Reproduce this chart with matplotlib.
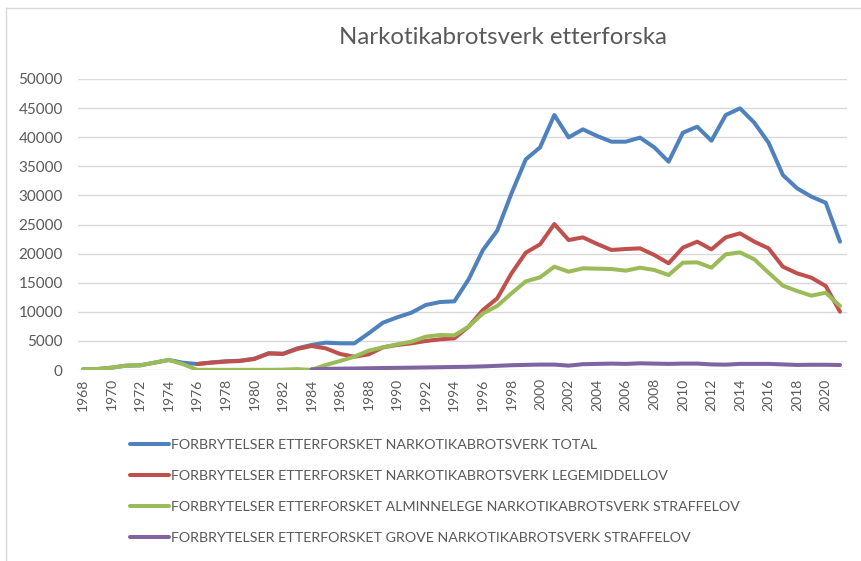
import matplotlib
matplotlib.use("Agg")
import matplotlib.pyplot as plt
from matplotlib.lines import Line2D

plt.rcParams["font.family"] = ["Lato", "DejaVu Sans"]

years = list(range(1968, 2022))

total = [115, 170, 400, 745, 800, 1260, 1720, 1250, 1030, 1300, 1500, 1600, 1950, 2860, 2800,
         3720, 4300, 4700, 4580, 4580, 6300, 8130, 9050, 9850, 11170, 11680, 11800, 15580,
         20620, 23940, 30350, 36190, 38250, 43810, 39970, 41350, 40200, 39230, 39230, 39920,
         38250, 35790, 40770, 41800, 39400, 43810, 44960, 42490, 39050, 33500, 31210, 29780,
         28740, 22050]

legemiddel = [None] * 8 + [1030, 1260, 1450, 1550, 1890, 2860, 2750, 3610, 4120, 3720, 2750,
              2290, 2690, 3890, 4300, 4580, 4980, 5270, 5440, 7450, 10310, 12310, 16610,
              20160, 21590, 25080, 22330, 22790, 21650, 20620, 20790, 20900, 19760, 18330,
              21020, 22050, 20730, 22790, 23480, 22050, 20900, 17750, 16610, 15860, 14430, 10020]

alminnelege = [115, 170, 400, 745, 800, 1260, 1720, 1000, 30, 30, 30, 30, 30, 30, 60, 150, 20,
               860, 1550, 2290, 3320, 3890, 4410, 4870, 5730, 6010, 5960, 7450, 9730, 11000,
               13170, 15230, 15920, 17750, 16890, 17470, 17410, 17350, 17070, 17580, 17180,
               16320, 18440, 18500, 17580, 19870, 20210, 19010, 16720, 14490, 13570, 12770,
               13280, 11000]

grove = [None] * 16 + [115, 200, 230, 260, 300, 340, 370, 400, 440, 480, 520, 560, 620, 720,
         820, 880, 930, 930, 750, 1000, 1050, 1100, 1050, 1150, 1100, 1050, 1100, 1100,
         960, 920, 1050, 1050, 1050, 960, 870, 900, 900, 860]

series_labels = [
    "FORBRYTELSER ETTERFORSKET NARKOTIKABROTSVERK TOTAL",
    "FORBRYTELSER ETTERFORSKET NARKOTIKABROTSVERK LEGEMIDDELLOV",
    "FORBRYTELSER ETTERFORSKET ALMINNELEGE NARKOTIKABROTSVERK STRAFFELOV",
    "FORBRYTELSER ETTERFORSKET GROVE NARKOTIKABROTSVERK STRAFFELOV",
]
colors = ["#4F81BD", "#C0504D", "#9BBB59", "#8064A2"]
title = "Narkotikabrotsverk etterforska"
yticks = list(range(0, 50001, 5000))
xtick_years = list(range(1968, 2021, 2))

W, H = 861, 561
fig = plt.figure(figsize=(W / 100, H / 100), dpi=100)
ax = fig.add_axes([78 / W, (H - 370) / H, 769 / W, 291 / H])

TXT = "#595959"
handles = []
for vals, c, lab in zip([total, legemiddel, alminnelege, grove], colors, series_labels):
    xs = [y for y, v in zip(years, vals) if v is not None]
    vs = [v for v in vals if v is not None]
    h, = ax.plot(xs, vs, color=c, lw=2.9, solid_joinstyle="round", solid_capstyle="round", label=lab)
    handles.append(h)

ax.set_ylim(0, 50000)
ax.set_xlim(1968 - 5 / 14.28, 2021 + 7 / 14.28)
ax.set_yticks(yticks)
ax.set_yticklabels([str(v) for v in yticks], fontsize=11, color=TXT)
ax.set_xticks(xtick_years)
ax.set_xticklabels([str(v) for v in xtick_years], rotation=90, fontsize=10, color=TXT)
ax.tick_params(axis="y", length=0, pad=11)
ax.tick_params(axis="x", length=0, pad=6)
ax.grid(axis="y", color="#D9D9D9", lw=1)
ax.set_axisbelow(True)
for s in ax.spines.values():
    s.set_visible(False)

fig.text(503 / W, 1 - 38 / H, title, ha="center", va="center", fontsize=17.3, color=TXT)

leg = fig.legend(handles=handles, loc="upper left", bbox_to_anchor=(130 / W, 1 - 439 / H),
                 frameon=False, fontsize=10.3, handlelength=2.7, handletextpad=0.2,
                 labelspacing=1.33, borderaxespad=0, borderpad=0)
for t in leg.get_texts():
    t.set_color(TXT)

# chart border (partially visible)
fig.add_artist(Line2D([6 / W, 1], [1 - 8 / H, 1 - 8 / H], color="#D9D9D9", lw=1, transform=fig.transFigure))
fig.add_artist(Line2D([6 / W, 6 / W], [0, 1 - 8 / H], color="#D9D9D9", lw=1, transform=fig.transFigure))

fig.savefig("out.png", dpi=100)
